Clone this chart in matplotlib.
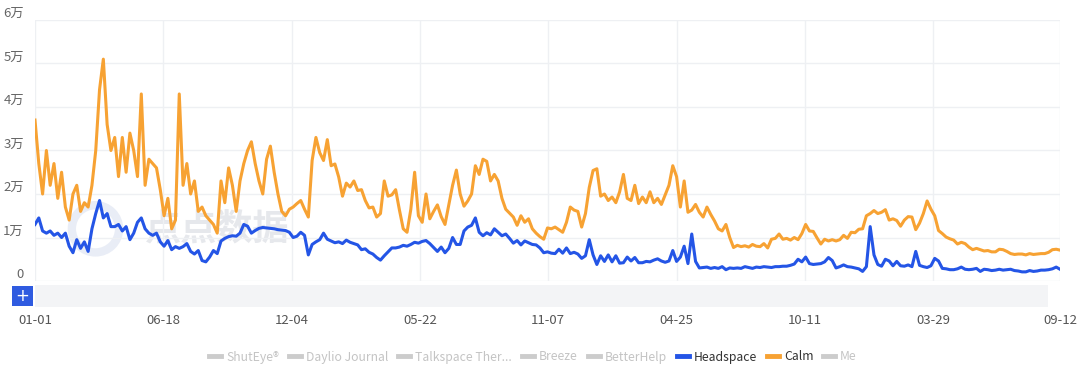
import numpy as np
import pandas as pd
import matplotlib
matplotlib.use("Agg")
import matplotlib.pyplot as plt
from matplotlib.lines import Line2D
from matplotlib.patches import Rectangle

plt.rcParams['font.family'] = ['Noto Sans CJK SC', 'DejaVu Sans']

# --- Data (values in thousands, one reading every ~5 days) ---------------------
start_date = "2020-01-01"
end_date = "2023-09-12"

calm_k = [
    37, 27, 20, 30, 22, 27, 19, 25, 17, 14, 20, 22, 16, 18, 17, 22, 30, 44, 51, 36,
    30, 33, 24, 33, 25, 34, 30, 24, 43, 22, 28, 27, 26, 21,
    15, 19, 12, 14, 43, 22, 27, 20, 23, 16, 17, 15, 14, 13, 11, 23, 18, 26, 22, 16,
    23, 27, 30, 32, 27, 23, 20, 28, 31, 25, 20, 16, 15, 16.5,
    17, 17.8, 18.5, 16.5, 14.7, 27.7, 33, 29.5, 27.7, 32.5, 26.5, 26.9, 23.9, 19.5,
    22.5, 21.6, 23, 20.8, 21, 18.5, 16.8, 17, 14.7, 15.5, 23, 19.5, 19.8, 21, 16.3,
    12, 11.2, 16.5, 25, 15,
    13.5, 20, 14.3, 16, 17.5, 14.8, 13, 17.5, 22, 25.5, 20, 17.2, 18.4, 20, 26.5,
    24.5, 28, 27.5, 23, 24.5, 23, 19, 16.5, 15.6, 14.7, 12.8, 15, 13.5, 14.3, 12,
    11, 10.2, 9.6, 12.2,
    12, 12.4, 11.8, 11.2, 13.5, 17, 16.3, 16, 12.4, 15.5, 21.5, 25.4, 25.8, 19.5,
    20, 18.5, 19.3, 18, 20.5, 24.5, 19, 18.5, 22, 17.8, 19.3, 18, 20.5, 18, 19,
    17.6, 19.8, 22, 26.5, 24,
    17, 23, 15.8, 16.3, 17.6, 15.8, 14.7, 17, 15.3, 13.8, 12, 11.5, 13, 10, 7.7,
    8.2, 7.9, 8.1, 7.8, 8.4, 8, 7.9, 8.6, 7.6, 9.6, 9.8, 10.8, 9.6, 9.8, 9.4, 10,
    9.5, 10.9, 13,
    11.5, 11.4, 9.9, 8.5, 9.6, 9.2, 9.5, 9.2, 9.5, 10.5, 9.8, 11.2, 11.1, 11.9, 12,
    15, 15.5, 16.2, 15.5, 15.8, 16.4, 14, 14.3, 13.9, 12.6, 14, 14.8, 14.7, 11.8,
    13.3, 15.5, 18.4, 16.5, 15,
    11.6, 10.9, 10.1, 9.7, 9.4, 8.5, 8.9, 8.6, 7.8, 7.2, 7.5, 7.2, 6.9, 7, 6.7,
    6.7, 7.3, 7.2, 6.8, 6.3, 6.1, 6.2, 6.2, 6, 6.3, 6.1, 6.2, 6.3, 6.3, 6.6, 7.2,
    7.3, 7.1,
]

headspace_k = [
    13, 14.5, 11.5, 11, 11.5, 10.5, 11, 10, 11, 8, 6.5, 9.5, 7.5, 9, 6.8, 12, 15.5,
    18.5, 14.5, 15.5, 12.5, 12.5, 13, 11.5, 12.5, 9.5, 11, 13.5, 14.5, 12, 11, 10.5,
    11, 9,
    8, 9.3, 7.2, 7.9, 7.5, 7.9, 8.6, 6.8, 6.2, 7, 4.7, 4.4, 5.5, 7, 6.3, 9.2, 9.8,
    10.2, 10.4, 10.3, 11, 13, 12.6, 11, 11.6, 12.1, 12.3, 12.2, 12.1, 12, 11.8,
    11.7, 11.6, 11.2,
    10, 10.3, 11.2, 10.5, 6, 8.4, 9, 9.5, 11, 9.6, 9.2, 8.8, 9, 8.6, 9.4, 8.9, 8.6,
    8.3, 7.2, 7.4, 6.6, 6.2, 5.4, 4.8, 5.8, 6.7, 7.6, 7.6, 7.8, 8.2, 8, 8.4, 8.9,
    8.7,
    9.1, 9.3, 8.6, 7.7, 6.8, 7.8, 6.5, 7.5, 10, 8.4, 8.4, 11.5, 12.4, 12.8, 14.5,
    11.2, 10.4, 11.1, 10.6, 12, 11.2, 10.4, 10.8, 9.8, 8.7, 9.3, 8.3, 9.2, 8.8,
    8.4, 8.3, 7.6, 6.5, 6.7,
    6.4, 6.3, 7.3, 6.4, 7.6, 6.3, 6.6, 6.2, 5.2, 5.8, 9.5, 6, 3.8, 5.8, 4.5, 6, 4.4,
    5.8, 4.1, 4.2, 5.5, 4.6, 5.4, 4.2, 4.2, 4.5, 4.4, 4.8, 5.1, 4.6, 4.3, 4.6, 7,
    4.5,
    5.5, 8, 4, 10.8, 4.5, 3, 3.1, 3.2, 2.9, 3.1, 2.9, 3.3, 2.6, 3, 2.9, 3, 2.9, 3.3,
    3.1, 2.9, 3.2, 3.1, 3.3, 3.2, 3.1, 3.3, 3.3, 3.4, 3.4, 3.6, 3.9, 5, 4.4, 5.5,
    4, 3.8, 3.9, 4, 4.4, 5.4, 4.7, 3, 3.3, 3.7, 3.3, 3.2, 3, 2.8, 2.2, 3.3, 12.5, 6,
    3.8, 3.4, 5, 4.6, 3.5, 4.5, 3.5, 3.4, 3.7, 3.3, 6.8, 3.6, 3.3, 3.1, 3.5, 5.2,
    4.6, 2.9, 2.8, 2.6, 2.6, 2.8, 3.2, 2.7, 2.6, 2.7, 2.9, 2.2, 2.7, 2.6, 2.4, 2.5,
    2.7, 2.5, 2.6, 2.7, 2.4, 2.3, 2.1, 2.1, 2.4, 2.2, 2.3, 2.5, 2.5, 2.6, 2.8, 3.2,
    2.7,
]

tick_dates = ["2020-01-01", "2020-06-18", "2020-12-04", "2021-05-22", "2021-11-07",
              "2022-04-25", "2022-10-11", "2023-03-29", "2023-09-12"]
y_ticks = [0, 10000, 20000, 30000, 40000, 50000, 60000]
y_labels = ["0", "1万", "2万", "3万", "4万", "5万", "6万"]

legend_names = ["ShutEye®", "Daylio Journal", "Talkspace Ther...", "Breeze",
                "BetterHelp", "Headspace", "Calm", "Me"]

# --- Colours ------------------------------------------------------------------
BLUE = "#2455E6"
ORANGE = "#F7A233"
GREY_OFF = "#CCCCCC"
GRID = "#EEF0F3"

calm = np.array(calm_k) * 1000
headspace = np.array(headspace_k) * 1000
dates_calm = pd.date_range(start_date, end_date, periods=len(calm))
dates_head = pd.date_range(start_date, end_date, periods=len(headspace))

# --- Figure -------------------------------------------------------------------
fig = plt.figure(figsize=(10.8, 3.72), dpi=100)
ax = fig.add_axes([35 / 1080, 1 - 281 / 372, 1025 / 1080, 261 / 372])

# faint watermark (logo ring + name), behind the lines
ax.scatter([0.059], [0.2], s=34 ** 2, transform=ax.transAxes, marker="o",
           facecolors="none", edgecolors="#E9EDF6", linewidths=6, zorder=0)
ax.text(0.178, 0.2, "点点数据", transform=ax.transAxes, fontsize=26,
        fontweight="bold", color="#E6E8EC", ha="center", va="center", zorder=0)

ax.plot(dates_calm, calm, color=ORANGE, lw=2.2, zorder=3, solid_joinstyle="round")
ax.plot(dates_head, headspace, color=BLUE, lw=2.2, zorder=4, solid_joinstyle="round")

ax.set_ylim(0, 60000)
ax.set_xlim(pd.Timestamp(start_date), pd.Timestamp(end_date))

ax.set_yticks(y_ticks)
ax.set_yticklabels(y_labels, va="bottom")
ticks = pd.to_datetime(tick_dates)
ax.set_xticks(ticks)
ax.set_xticklabels([t.strftime("%m-%d") for t in ticks])

ax.tick_params(axis="y", length=0, pad=8, labelsize=9.5, labelcolor="#666666")
ax.tick_params(axis="x", length=0, pad=24, labelsize=9.5, labelcolor="#555555")
ax.grid(True, color=GRID, lw=1.0, zorder=0)
for s in ax.spines.values():
    s.set_visible(False)

# data zoom band and "+" button under the plot
fig.patches.append(Rectangle((35 / 1080, 1 - 307 / 372), 1013 / 1080, 22 / 372,
                             transform=fig.transFigure, facecolor="#F3F4F6",
                             edgecolor="none"))
fig.patches.append(Rectangle((12 / 1080, 1 - 306 / 372), 21 / 1080, 20 / 372,
                             transform=fig.transFigure, facecolor="#2F5BE0",
                             edgecolor="none"))
fig.text(22.5 / 1080, 1 - 296 / 372, "+", color="white", fontsize=12,
         ha="center", va="center", family="DejaVu Sans")

# legend
colors = [GREY_OFF] * 5 + [BLUE, ORANGE, GREY_OFF]
handles = [Line2D([0], [0], color=c, lw=3.5) for c in colors]
leg = fig.legend(handles, legend_names, loc="center", ncol=8,
                 bbox_to_anchor=(533 / 1080, 1 - 357 / 372), frameon=False,
                 fontsize=8.8, handlelength=1.0, handletextpad=0.4,
                 columnspacing=0.8)
for txt, c in zip(leg.get_texts(), colors):
    txt.set_color("#333333" if c != GREY_OFF else "#C4C4C4")

fig.savefig("out.png", dpi=100)
